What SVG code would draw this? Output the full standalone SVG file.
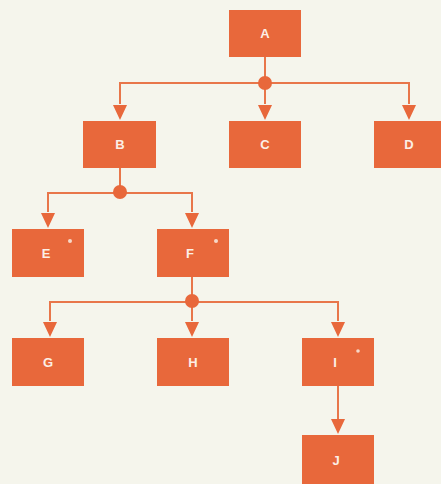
<svg xmlns="http://www.w3.org/2000/svg" width="441" height="484" viewBox="0 0 441 484">
  <style>
    .box { fill: #E8683B; }
    .lbl { font-family: "Liberation Sans", Arial, sans-serif; font-weight: bold; font-size: 13px; fill: #FCEFE6; text-anchor: middle; }
    .wire { fill: none; stroke: #E8764A; stroke-width: 2; }
    .dot { fill: #E8683B; }
    .mark { fill: #F6D8C8; }
  </style>
  <defs>
    <marker id="arrow" viewBox="0 0 14 14" refX="7" refY="14" markerWidth="14" markerHeight="14" markerUnits="userSpaceOnUse" orient="auto-start-reverse">
      <path d="M0,0 L14,0 L7,14 Z" fill="#E8683B"/>
    </marker>
  </defs>
  <rect width="441" height="484" fill="#F5F5EC"/>

  <g id="connectors">
    <path class="wire" d="M265,57 V104"/>
    <path class="wire" d="M120,104 V83 H409 V104"/>
    <path class="wire" d="M120,168 V193"/>
    <path class="wire" d="M48,212 V193 H192 V212"/>
    <path class="wire" d="M192,277 V321"/>
    <path class="wire" d="M50,321 V302 H338 V321"/>
    <path class="wire" d="M338,386 V419"/>
    <!-- arrowheads -->
    <path class="dot" d="M258,105 L272,105 L265,120 Z"/>
    <path class="dot" d="M113,105 L127,105 L120,120 Z"/>
    <path class="dot" d="M402,105 L416,105 L409,120 Z"/>
    <path class="dot" d="M41,213 L55,213 L48,228 Z"/>
    <path class="dot" d="M185,213 L199,213 L192,228 Z"/>
    <path class="dot" d="M43,322 L57,322 L50,337 Z"/>
    <path class="dot" d="M185,322 L199,322 L192,337 Z"/>
    <path class="dot" d="M331,322 L345,322 L338,337 Z"/>
    <path class="dot" d="M331,419 L345,419 L338,434 Z"/>
    <!-- junction dots -->
    <circle class="dot" cx="265" cy="83" r="7"/>
    <circle class="dot" cx="120" cy="192" r="7"/>
    <circle class="dot" cx="192" cy="301" r="7"/>
  </g>

  <g id="node-A"><rect class="box" x="229" y="10" width="72" height="47"/><text class="lbl" x="265" y="38">A</text></g>
  <g id="node-B"><rect class="box" x="83" y="121" width="73" height="47"/><text class="lbl" x="120" y="149">B</text></g>
  <g id="node-C"><rect class="box" x="229" y="121" width="72" height="47"/><text class="lbl" x="265" y="149">C</text></g>
  <g id="node-D"><rect class="box" x="374" y="121" width="67" height="47"/><text class="lbl" x="409" y="149">D</text></g>
  <g id="node-E"><rect class="box" x="12" y="229" width="72" height="48"/><text class="lbl" x="46" y="258">E</text><circle class="mark" cx="70" cy="241" r="2"/></g>
  <g id="node-F"><rect class="box" x="157" y="229" width="72" height="48"/><text class="lbl" x="190" y="258">F</text><circle class="mark" cx="216" cy="241" r="2"/></g>
  <g id="node-G"><rect class="box" x="12" y="338" width="72" height="48"/><text class="lbl" x="48" y="367">G</text></g>
  <g id="node-H"><rect class="box" x="157" y="338" width="72" height="48"/><text class="lbl" x="193" y="367">H</text></g>
  <g id="node-I"><rect class="box" x="302" y="338" width="72" height="48"/><text class="lbl" x="335" y="367">I</text><circle class="mark" cx="358" cy="351" r="1.8"/></g>
  <g id="node-J"><rect class="box" x="302" y="435" width="72" height="49"/><text class="lbl" x="336" y="465">J</text></g>
</svg>
